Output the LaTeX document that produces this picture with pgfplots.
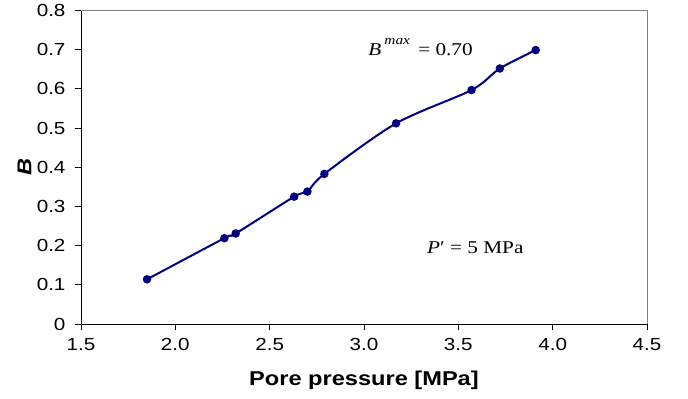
\documentclass[border=0pt]{standalone}
\usepackage{fontspec}
\setmainfont{Liberation Sans}[FakeStretch=1.18]
\newfontfamily\serif{Liberation Serif}[FakeStretch=1.18]
\usepackage{pgfplots}
\pgfplotsset{compat=1.18}
\definecolor{navyline}{RGB}{0,0,128}
\begin{document}
\begin{tikzpicture}
\useasboundingbox (-81bp,-75bp) rectangle (607bp,324bp);
\begin{axis}[
  scale only axis, width=566bp, height=313.5bp,
  xmin=1.5, xmax=4.5, ymin=0, ymax=0.8,
  xtick={1.5,2.0,2.5,3.0,3.5,4.0,4.5},
  ytick={0,0.1,0.2,0.3,0.4,0.5,0.6,0.7,0.8},
  axis x line*=bottom, axis y line*=left,
  axis line style={-, black, line width=0.9bp},
  tick align=outside, major tick length=6bp,
  tick style={black, line width=0.9bp},
  /pgf/number format/assume math mode=true,
  xticklabel style={/pgf/number format/.cd, fixed, fixed zerofill, precision=1, /tikz/.cd, yshift=-5bp},
  yticklabel style={/pgf/number format/.cd, fixed, precision=1, /tikz/.cd, xshift=-6bp},
  ticklabel style={font=\fontsize{17.5bp}{19bp}\selectfont},
  xlabel={Pore pressure [MPa]},
  ylabel={\itshape B},
  every axis x label/.style={at={(axis description cs:0.5,-0.1786)}, anchor=center, font=\fontsize{20bp}{22bp}\selectfont\bfseries},
  every axis y label/.style={at={(axis description cs:-0.1,0.5)}, anchor=center, rotate=90, font=\fontsize{20bp}{22bp}\selectfont\bfseries},
  clip=false,
]
\draw[gray, line width=0.9bp] (rel axis cs:0,1) -- (rel axis cs:1,1) -- (rel axis cs:1,0);
\addplot[navyline, line width=2bp, smooth, tension=0.5, mark=*, mark size=3.2bp, mark options={fill=navyline, draw=navyline}]
coordinates {
(1.85,0.114)
(2.26,0.219)
(2.32,0.231)
(2.63,0.325)
(2.70,0.338)
(2.79,0.383)
(3.17,0.512)
(3.57,0.597)
(3.72,0.652)
(3.91,0.699)
};
\node[anchor=center, font=\serif\fontsize{18bp}{20bp}\selectfont] at (axis cs:3.30,0.707) {\textit{B}\,\raisebox{0.6em}{\fontsize{13bp}{13bp}\selectfont\textit{max}}\, = 0.70};
\node[anchor=center, font=\serif\fontsize{18bp}{20bp}\selectfont] at (axis cs:3.59,0.194) {\textit{P}′ = 5 MPa};
\end{axis}
\end{tikzpicture}
\end{document}
